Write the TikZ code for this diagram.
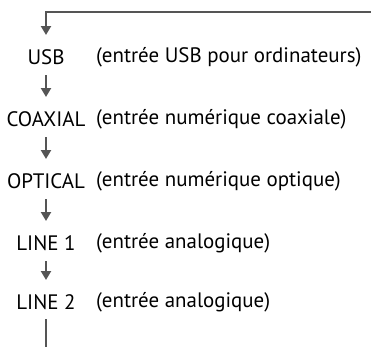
\documentclass[tikz,border=0pt]{standalone}
\usepackage{fontspec}
\setmainfont{PT Sans}
\usetikzlibrary{arrows.meta}
\definecolor{arrgray}{HTML}{555555}
\tikzset{
  namebox/.style={inner sep=0pt, font=\fontsize{21}{24}\selectfont, anchor=center},
  descbox/.style={inner sep=0pt, font=\fontsize{21}{24}\selectfont, anchor=west},
  flow/.style={draw=arrgray, line width=2.2bp, -{Triangle[width=10bp,length=9bp]}},
  flowplain/.style={draw=arrgray, line width=2.2bp}
}
\begin{document}
\begin{tikzpicture}[x=1bp,y=-1bp]
\useasboundingbox (0,0) rectangle (371,347);
\node[namebox] (usb) at (46,57) {USB};
\node[namebox] (coax) at (46,119) {COAXIAL};
\node[namebox] (opt) at (46,181) {OPTICAL};
\node[namebox] (l1) at (46,243) {LINE 1};
\node[namebox] (l2) at (46,302) {LINE 2};
\node[descbox] (dusb) at (96,57) {(entrée USB pour ordinateurs)};
\node[descbox] (dcoax) at (96,119) {(entrée numérique coaxiale)};
\node[descbox] (dopt) at (96,181) {(entrée numérique optique)};
\node[descbox] (dl1) at (96,243) {(entrée analogique)};
\node[descbox] (dl2) at (96,302) {(entrée analogique)};
\coordinate (tr) at (372,12);
\coordinate (tl) at (46,12);
\coordinate (bot) at (46,348);
\draw[flow] (tr) -- (tl) -- ([yshift=22bp]usb.center);
\draw[flow] ([yshift=-18bp]usb.center) -- ([yshift=22bp]coax.center);
\draw[flow] ([yshift=-18bp]coax.center) -- ([yshift=22bp]opt.center);
\draw[flow] ([yshift=-18bp]opt.center) -- ([yshift=22bp]l1.center);
\draw[flow] ([yshift=-18bp]l1.center) -- ([yshift=22bp]l2.center);
\draw[flowplain] ([yshift=-17bp]l2.center) -- (bot);
\end{tikzpicture}
\end{document}
